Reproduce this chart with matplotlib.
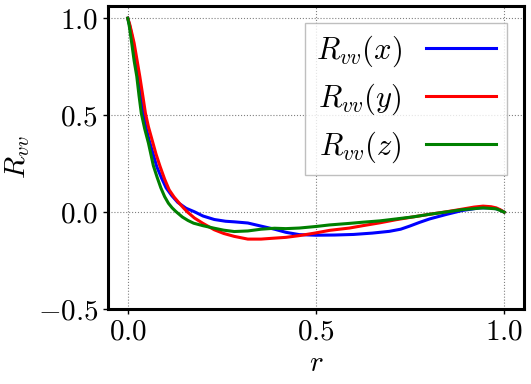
import matplotlib
matplotlib.use("Agg")
import matplotlib.pyplot as plt

plt.rcParams['font.family'] = 'serif'
plt.rcParams['font.serif'] = ['cmr10', 'DejaVu Serif']
plt.rcParams['mathtext.fontset'] = 'cm'
plt.rcParams['axes.formatter.use_mathtext'] = True

r_x = [0, 0.006, 0.012, 0.02, 0.028, 0.034, 0.040, 0.048, 0.057, 0.066, 0.077, 0.090, 0.102, 0.117,
       0.133, 0.155, 0.177, 0.20, 0.23, 0.26, 0.283, 0.319, 0.354, 0.39, 0.42, 0.456, 0.5, 0.55, 0.6,
       0.65, 0.695, 0.725, 0.749, 0.775, 0.802, 0.846, 0.89, 0.935, 0.97, 0.988, 1.0]
R_x = [1.0, 0.955, 0.90, 0.80, 0.69, 0.60, 0.52, 0.44, 0.37, 0.31, 0.235, 0.175, 0.125, 0.085,
       0.050, 0.020, 0.002, -0.02, -0.038, -0.047, -0.05, -0.056, -0.072, -0.088, -0.104, -0.116, -0.119,
       -0.118, -0.115, -0.108, -0.099, -0.088, -0.072, -0.053, -0.035, -0.012, 0.009, 0.022, 0.022, 0.012, 0.0]

r_y = [0, 0.005, 0.01, 0.017, 0.025, 0.032, 0.04, 0.047, 0.055, 0.065, 0.075, 0.086, 0.098, 0.110,
       0.123, 0.137, 0.148, 0.159, 0.177, 0.199, 0.23, 0.255, 0.283, 0.319, 0.354, 0.39, 0.42, 0.456,
       0.5, 0.536, 0.589, 0.624, 0.67, 0.713, 0.76, 0.802, 0.85, 0.89, 0.92, 0.944, 0.965, 0.979, 0.99, 1.0]
R_y = [1.0, 0.97, 0.93, 0.871, 0.78, 0.70, 0.60, 0.51, 0.44, 0.37, 0.30, 0.235, 0.17, 0.115,
       0.078, 0.046, 0.022, 0.0, -0.03, -0.057, -0.091, -0.11, -0.125, -0.139, -0.139, -0.134, -0.13, -0.121,
       -0.107, -0.094, -0.082, -0.07, -0.055, -0.039, -0.024, -0.011, 0.003, 0.016, 0.026, 0.031, 0.028, 0.022,
       0.012, 0.0]

r_z = [0, 0.004, 0.0106, 0.017, 0.024, 0.030, 0.036, 0.045, 0.055, 0.068, 0.078, 0.088, 0.098, 0.108,
       0.118, 0.128, 0.145, 0.160, 0.175, 0.20, 0.23, 0.255, 0.283, 0.319, 0.354, 0.39, 0.42, 0.456, 0.5,
       0.536, 0.589, 0.624, 0.67, 0.713, 0.76, 0.802, 0.85, 0.89, 0.944, 0.979, 1.0]
R_z = [1.0, 0.96, 0.871, 0.78, 0.70, 0.60, 0.51, 0.43, 0.356, 0.24, 0.18, 0.125, 0.08, 0.046,
       0.022, 0.003, -0.025, -0.043, -0.057, -0.07, -0.083, -0.093, -0.100, -0.097, -0.088, -0.083, -0.085,
       -0.082, -0.074, -0.066, -0.058, -0.052, -0.045, -0.035, -0.024, -0.011, 0.002, 0.013, 0.022, 0.017, 0.0]

labels = [r'$R_{vv}(x)$', r'$R_{vv}(y)$', r'$R_{vv}(z)$']
colors = ['blue', 'red', 'green']

fig = plt.figure(figsize=(5.31, 3.84), dpi=100)
ax = fig.add_axes([0.203, 0.195, 0.784, 0.789])

for r, R, lab, c in zip([r_x, r_y, r_z], [R_x, R_y, R_z], labels, colors):
    ax.plot(r, R, color=c, lw=2.2, label=lab, solid_joinstyle='round')

ax.set_xlim(-0.053, 1.053)
ax.set_ylim(-0.5, 1.062)
ax.set_xticks([0.0, 0.5, 1.0])
ax.set_yticks([-0.5, 0.0, 0.5, 1.0])
ax.grid(True, color='gray', linestyle=':', linewidth=0.8)
for s in ax.spines.values():
    s.set_linewidth(2.2)
ax.tick_params(labelsize=21, width=1.0, length=3.5)
ax.set_xlabel(r'$r$', fontsize=21)
ax.set_ylabel(r'$R_{vv}$', fontsize=21)

leg = ax.legend(loc='upper right', fontsize=22, markerfirst=False, fancybox=False,
                handlelength=2.3, borderaxespad=0.0, borderpad=0.35, labelspacing=0.4,
                framealpha=0.8, bbox_to_anchor=(507 / 531, 1 - 23 / 384),
                bbox_transform=fig.transFigure)
leg.get_frame().set_edgecolor('#b0b0b0')

fig.savefig('out.png', dpi=100)
